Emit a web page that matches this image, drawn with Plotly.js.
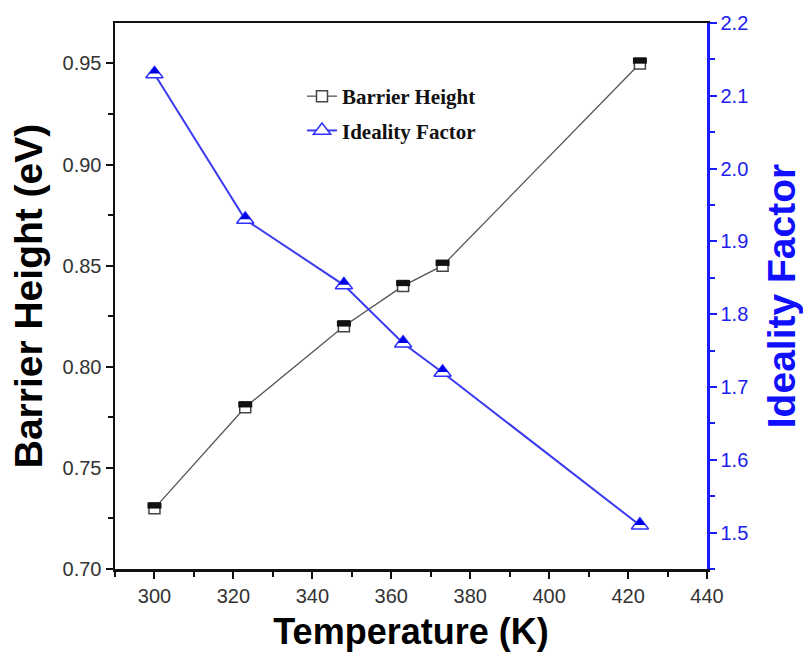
<!DOCTYPE html>
<html><head><meta charset="utf-8">
<script src="https://cdn.plot.ly/plotly-3.0.1.min.js"></script>
<style>html,body{margin:0;padding:0;background:#fff}#chart{width:803px;height:664px}</style>
</head><body><div id="chart"></div>
<script>
// ---- data ----
const temperature = [300, 323, 348, 363, 373, 423];
const barrierHeight = [0.73, 0.78, 0.82, 0.84, 0.85, 0.95];
const idealityFactor = [2.13, 1.93, 1.84, 1.76, 1.72, 1.51];
const seriesNames = ['Barrier Height', 'Ideality Factor'];
const xTickVals = [300, 320, 340, 360, 380, 400, 420, 440];
const yLeftTicks = [0.70, 0.75, 0.80, 0.85, 0.90, 0.95];
const yRightTicks = [1.5, 1.6, 1.7, 1.8, 1.9, 2.0, 2.1, 2.2];

// ---- layout constants ----
const W = 803, H = 664, M = {l: 115, r: 96, t: 23, b: 95};
const plotH = H - M.t - M.b;
const xRange = [290, 440], yLeft = [0.70, 0.97], yRight = [1.45, 2.2];
const sqSize = 11, triSize = 15, triFill = 9.5;
// overlay axes shifted so the "upper half" fill sits on the top part of each marker
const shiftL = (sqSize / 4) * (yLeft[1] - yLeft[0]) / plotH;
const shiftR = ((triSize - triFill) / 2) * (yRight[1] - yRight[0]) / plotH;

const BLACK = '#111', GRAY = '#555', BLUE = '#1a1aff', BLUE_LINE = '#3a3af0';
const tickFont = {family: 'Liberation Sans, Arial, sans-serif', size: 20, color: '#333'};

const traces = [
  {x: temperature, y: barrierHeight, name: seriesNames[0], type: 'scatter', mode: 'lines+markers',
   xaxis: 'x', yaxis: 'y', legendgroup: 'a',
   line: {color: GRAY, width: 1.3},
   marker: {symbol: 'square', size: sqSize, color: '#fff', line: {color: '#444', width: 1.5}}},
  {x: temperature, y: barrierHeight, type: 'scatter', mode: 'markers', showlegend: false, hoverinfo: 'skip',
   xaxis: 'x', yaxis: 'y3',
   marker: {symbol: 'line-ew', size: sqSize - 1, color: BLACK, line: {color: BLACK, width: sqSize / 2 + 0.5}}},
  {x: temperature, y: idealityFactor, name: seriesNames[1], type: 'scatter', mode: 'lines+markers',
   xaxis: 'x', yaxis: 'y2', legendgroup: 'b',
   line: {color: BLUE_LINE, width: 2},
   marker: {symbol: 'triangle-up', size: triSize, color: '#fff', line: {color: '#3030ff', width: 1.5}}},
  {x: temperature, y: idealityFactor, type: 'scatter', mode: 'markers', showlegend: false, hoverinfo: 'skip',
   xaxis: 'x', yaxis: 'y4',
   marker: {symbol: 'triangle-up', size: triFill, color: '#0000e6', line: {width: 0}}}
];

const layout = {
  width: W, height: H, margin: M,
  paper_bgcolor: '#fff', plot_bgcolor: '#fff',
  showlegend: true,
  legend: {x: (302 - M.l) / (W - M.l - M.r), y: 1 - (76 - M.t) / plotH, xanchor: 'left', yanchor: 'top',
           bgcolor: 'rgba(0,0,0,0)', traceorder: 'grouped', tracegroupgap: 4,
           font: {family: 'Liberation Serif, Times New Roman, serif', size: 21, color: '#111', weight: 'bold'}},
  xaxis: {range: xRange, tickvals: xTickVals, ticks: 'outside', ticklen: 7, tickwidth: 2, tickcolor: BLACK,
          showline: true, linecolor: BLACK, linewidth: 2.5, mirror: true, showgrid: false, zeroline: false,
          minor: {dtick: 10, tick0: 290, ticks: 'outside', ticklen: 5, tickwidth: 2, tickcolor: BLACK, showgrid: false},
          tickfont: tickFont,
          title: {text: 'Temperature (K)', standoff: 14,
                  font: {family: 'Liberation Sans, Arial, sans-serif', size: 36, color: '#000', weight: 'bold'}}},
  yaxis: {range: yLeft, tickvals: yLeftTicks, tickformat: '.2f', ticks: 'outside', ticklen: 7, tickwidth: 2,
          tickcolor: BLACK, showline: true, linecolor: BLACK, linewidth: 2.5, showgrid: false, zeroline: false,
          minor: {dtick: 0.025, tick0: 0.70, ticks: 'outside', ticklen: 5, tickwidth: 2, tickcolor: BLACK, showgrid: false},
          tickfont: tickFont,
          title: {text: 'Barrier Height (eV)', standoff: 8,
                  font: {family: 'Liberation Sans, Arial, sans-serif', size: 39, color: '#000', weight: 'bold'}}},
  yaxis2: {range: yRight, overlaying: 'y', side: 'right', tickvals: yRightTicks, tickformat: '.1f',
           ticks: 'outside', ticklen: 7, tickwidth: 2, tickcolor: BLUE,
           showline: true, linecolor: BLUE, linewidth: 2.5, showgrid: false, zeroline: false,
           minor: {dtick: 0.05, tick0: 1.45, ticks: 'outside', ticklen: 5, tickwidth: 2, tickcolor: BLUE, showgrid: false},
           tickfont: {family: 'Liberation Sans, Arial, sans-serif', size: 20, color: '#2020ee'},
           title: {text: 'Ideality Factor', standoff: 22,
                   font: {family: 'Liberation Sans, Arial, sans-serif', size: 39, color: '#1010ff', weight: 'bold'}}},
  yaxis3: {range: [yLeft[0] - shiftL, yLeft[1] - shiftL], overlaying: 'y', visible: false, fixedrange: true},
  yaxis4: {range: [yRight[0] - shiftR, yRight[1] - shiftR], overlaying: 'y', visible: false, fixedrange: true}
};

Plotly.newPlot('chart', traces, layout, {displayModeBar: false, staticPlot: true});
</script></body></html>
